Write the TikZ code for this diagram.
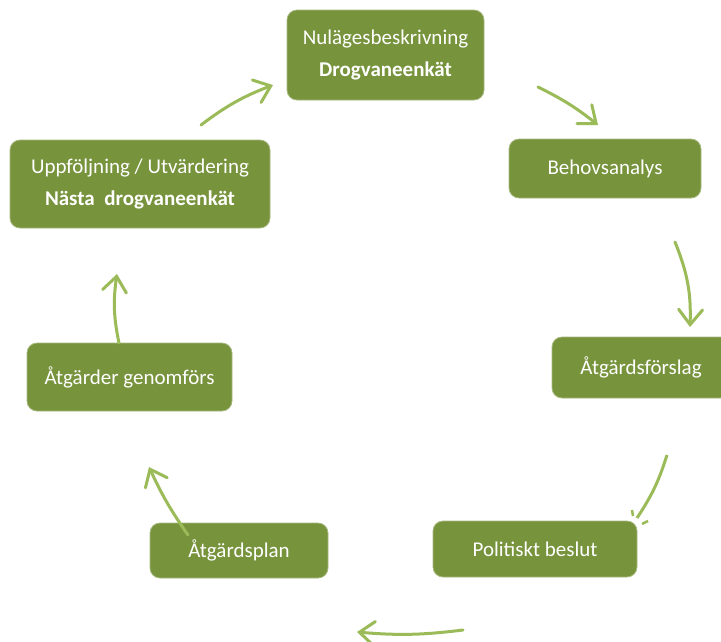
\documentclass[tikz,border=0pt]{standalone}
\usepackage{fontspec}
\setmainfont{Carlito}
\usetikzlibrary{arrows.meta}
\definecolor{boxgreen}{HTML}{77933C}
\definecolor{arrowgreen}{HTML}{9BBB59}
\tikzset{
  stagebox/.style={rounded corners=10pt, fill=boxgreen, draw=boxgreen!65!white, line width=0.8pt,
    text=white, align=center, inner sep=0pt, font=\fontsize{21}{31.5}\selectfont},
  cyclearrow/.style={draw=arrowgreen, line width=3pt, line cap=round,
    -{Straight Barb[length=15pt,width=24pt,line cap=round]}},
  cycleline/.style={draw=arrowgreen, line width=3pt},
  ticks/.style={draw=arrowgreen, line width=2.5pt}
}
\begin{document}
\begin{tikzpicture}[x=1pt,y=-1pt]
\useasboundingbox (0,0) rectangle (721,641);

\node[stagebox, minimum width=197pt, minimum height=90pt] (n1) at (385.5,55)
  {Nulägesbeskrivning\\\textbf{Drogvaneenkät}};
\node[stagebox, minimum width=192pt, minimum height=59pt] (n2) at (605,168.5) {Behovsanalys};
\node[stagebox, minimum width=178pt, minimum height=61pt] (n3) at (641,367.5) {Åtgärdsförslag};
\node[stagebox, minimum width=204pt, minimum height=56pt] (n4) at (535,549) {Politiskt beslut};
\node[stagebox, minimum width=178pt, minimum height=55pt] (n5) at (239,550.5) {Åtgärdsplan};
\node[stagebox, minimum width=205pt, minimum height=68pt] (n6) at (129.5,377) {Åtgärder genomförs};
\node[stagebox, minimum width=260pt, minimum height=88pt] (n7) at (140,184)
  {Uppföljning / Utvärdering\\\textbf{Nästa~~drogvaneenkät}};

\coordinate (a1s) at (538,87);   \coordinate (a1e) at (598,125);
\coordinate (a2s) at (675,242);  \coordinate (a2e) at (690,327);
\coordinate (a3s) at (667,455);  \coordinate (a3e) at (637,518);
\coordinate (a4s) at (463,630);  \coordinate (a4e) at (357,632);
\coordinate (a5s) at (188,535);  \coordinate (a5e) at (149,467);
\coordinate (a6s) at (119,343);  \coordinate (a6e) at (117,274);
\coordinate (a7s) at (201,125);  \coordinate (a7e) at (273,85);

\draw[cyclearrow] (a1s) to[bend left=6] (a1e);
\draw[cyclearrow] (a2s) to[bend left=12] (a2e);
\draw[cycleline] (a3s) to[bend left=8] (a3e);
\coordinate (t1a) at (632,510); \coordinate (t1b) at (633,516);
\coordinate (t2a) at (642,524); \coordinate (t2b) at (648,521);
\draw[ticks] (t1a) -- (t1b);
\draw[ticks] (t2a) -- (t2b);
\draw[cyclearrow] (a4s) to[bend left=6] (a4e);
\draw[cyclearrow] (a5s) to[bend left=5] (a5e);
\draw[cyclearrow] (a6s) to[bend left=10] (a6e);
\draw[cyclearrow] (a7s) to[bend left=8] (a7e);
\end{tikzpicture}
\end{document}
